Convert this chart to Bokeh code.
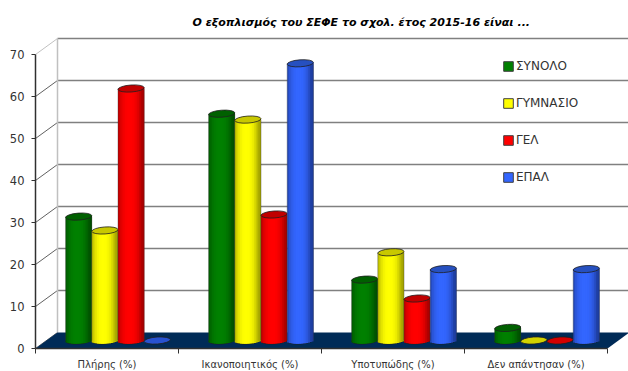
from bokeh.embed import file_html
from bokeh.models import FixedTicker, Legend, LegendItem, LinearAxis, Range1d, Title
from bokeh.plotting import figure
from bokeh.resources import INLINE
import numpy as np

TITLE = "Ο εξοπλισμός του ΣΕΦΕ το σχολ. έτος 2015-16 είναι ..."
categories = ["Πλήρης (%)", "Ικανοποιητικός (%)", "Υποτυπώδης (%)", "Δεν απάντησαν (%)"]
series_names = ["ΣΥΝΟΛΟ", "ΓΥΜΝΑΣΙΟ", "ΓΕΛ", "ΕΠΑΛ"]
synolo = [29.5, 54, 14.5, 3]
gymnasio = [26.2, 52.6, 21, 0]
gel = [60, 30, 10, 0]
epal = [0, 66, 17, 17]
y_ticks = [0, 10, 20, 30, 40, 50, 60, 70]

# (bright centre colour, dark edge colour, top cap colour)
palette = [
    ((0, 128, 0), (0, 80, 0), "#006000"),
    ((255, 255, 0), (165, 165, 0), "#c8c800"),
    ((255, 0, 0), (170, 0, 0), "#c00000"),
    ((51, 102, 255), (30, 62, 160), "#2650c0"),
]
all_series = [synolo, gymnasio, gel, epal]

PX_X = 143.0   # pixels per category
PX_Y = 4.2     # pixels per percentage point
FRAME_W, FRAME_H = 593, 312
DEPTH_X, DEPTH_Y = 22 / PX_X, 16 / PX_Y   # full depth of the 3D box
BAR_W = 26.2 / PX_X
CAP_H = 7 / PX_Y
TILT = 0.07
N_STRIPS = 15

p = figure(
    width=628, height=371, output_backend="svg", toolbar_location=None,
    x_range=Range1d(0, FRAME_W / PX_X), y_range=Range1d(0, FRAME_H / PX_Y),
    frame_width=FRAME_W, frame_height=FRAME_H,
    x_axis_type=None, y_axis_type=None,
    min_border_left=35, min_border_right=0, min_border_top=36, min_border_bottom=23,
    outline_line_color=None, background_fill_color="white", border_fill_color="white",
)
p.grid.visible = False

p.title = Title(
    text=TITLE, align="left", offset=157, standoff=16,
    text_font="DejaVu Sans", text_font_size="11px", text_font_style="bold italic",
    text_color="#000000",
)

# Walls and gridlines of the box
x_end = 4 + DEPTH_X
for v in y_ticks:
    top = v == y_ticks[-1]
    if v > 0:
        p.line([DEPTH_X, x_end], [v + DEPTH_Y] * 2, line_color="#808080", line_width=1.5)
    p.line([0, DEPTH_X], [v, v + DEPTH_Y], line_color="#c0c0c0" if top else "#606060", line_width=1)
p.line([DEPTH_X, DEPTH_X], [DEPTH_Y, y_ticks[-1] + DEPTH_Y], line_color="#c0c0c0", line_width=1.5)

# Dark floor
p.patch([0, DEPTH_X, x_end, 4], [0, DEPTH_Y, DEPTH_Y, 0], fill_color="#002b57", line_color=None)


def blend(a, b, f):
    return "#%02x%02x%02x" % tuple(int(round(a[i] * (1 - f) + b[i] * f)) for i in range(3))


# Cylinders: shaded vertical strips between a base ellipse and a top cap.
# Each strip runs under its right neighbour so that no seams show.
for s, values in enumerate(all_series):
    bright, dark, cap = palette[s]
    for c, v in enumerate(values):
        cx = c + 0.5 + DEPTH_X / 2 + (s - 1.5) * BAR_W
        base = DEPTH_Y / 2
        p.ellipse([cx], [base], width=BAR_W, height=CAP_H, angle=TILT,
                  fill_color=blend(bright, dark, 0.5), line_color="#202020", line_width=0.8)
        if v > 0.5:
            edges = np.linspace(-1, 1, N_STRIPS + 1)
            mids = (edges[:-1] + edges[1:]) / 2
            shade = np.clip(np.abs(mids + 0.12) / 0.95, 0, 1) ** 2.5
            rise = TILT * 26.2 / 2 / PX_Y * mids
            low = base - (CAP_H / 2 - 0.12) * np.sqrt(1 - mids ** 2) + rise
            high = base + v + rise
            rights = np.minimum(edges[1:] + 2 / N_STRIPS, 1.0)
            p.quad(left=cx + edges[:-1] * BAR_W / 2, right=cx + rights * BAR_W / 2,
                   bottom=low, top=high,
                   fill_color=[blend(bright, dark, f) for f in shade], line_color=None)
            p.line([cx - BAR_W / 2] * 2, [base, base + v], line_color="#303030", line_width=0.6, line_alpha=0.6)
            p.line([cx + BAR_W / 2] * 2, [base, base + v], line_color="#303030", line_width=0.6, line_alpha=0.6)
            p.ellipse([cx], [base + v], width=BAR_W, height=CAP_H, angle=TILT,
                      fill_color=cap, line_color="#202020", line_width=0.8)

# Axes: category labels sit on major ticks, the separators on minor ticks
y_axis = LinearAxis(
    ticker=FixedTicker(ticks=y_ticks), bounds=(0, 70),
    axis_line_color="#303030", axis_line_width=1.5,
    major_tick_line_color="#303030", major_tick_out=4, major_tick_in=0,
    major_label_text_font="DejaVu Sans", major_label_text_font_size="11.5px",
    major_label_text_color="#333333", major_label_standoff=7,
)
p.add_layout(y_axis, "left")

x_axis = LinearAxis(
    ticker=FixedTicker(ticks=[0.5, 1.5, 2.5, 3.5], minor_ticks=[0, 1, 2, 3, 4]), bounds=(0, 4),
    major_label_overrides={i + 0.5: name for i, name in enumerate(categories)},
    axis_line_color="#303030", axis_line_width=1.5,
    major_tick_out=0, major_tick_in=0,
    minor_tick_line_color="#303030", minor_tick_out=5, minor_tick_in=0,
    major_label_text_font="DejaVu Sans", major_label_text_font_size="10px",
    major_label_text_color="#333333", major_label_standoff=5,
)
p.add_layout(x_axis, "below")

# Legend swatches come from glyphs without visible data
items = []
for s, name in enumerate(series_names):
    r = p.rect([float("nan")], [float("nan")], width=1, height=1,
               fill_color=blend(palette[s][0], palette[s][0], 0), line_color="#404040", line_width=1)
    items.append(LegendItem(label=name, renderers=[r]))
legend = Legend(
    items=items, location=(467, 164), orientation="vertical",
    glyph_width=12, glyph_height=12, label_width=60, label_height=12, spacing=23,
    label_text_font="DejaVu Sans", label_text_font_size="12px", label_text_color="#333333",
    label_standoff=2, border_line_color=None, background_fill_alpha=0, padding=0, margin=0,
)
p.add_layout(legend, "center")

open("out.html", "w").write(file_html(p, INLINE))
